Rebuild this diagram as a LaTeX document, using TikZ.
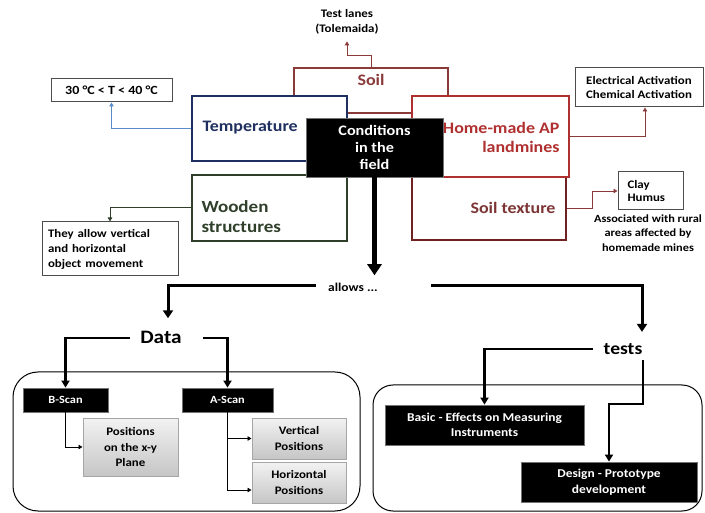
\documentclass[tikz,border=0pt]{standalone}
\usepackage{fontspec}
\setmainfont[FakeStretch=1.12]{Carlito}
\usepackage{tikz}
\usetikzlibrary{arrows.meta}

\definecolor{tempnavy}{HTML}{1F2F5F}
\definecolor{tempblue}{HTML}{5B8BC9}
\definecolor{soilred}{HTML}{8B3A3A}
\definecolor{homered}{HTML}{B03030}
\definecolor{texbrown}{HTML}{6E2222}
\definecolor{woodgreen}{HTML}{2F3F2A}

\begin{document}
\begin{tikzpicture}[x=1pt, y=-1pt, line width=1pt,
    bigbox/.style={draw, fill=white, line width=1.6pt, inner sep=0pt},
    bigtext/.style={font=\bfseries\fontsize{16}{19}\selectfont, inner sep=0pt},
    infobox/.style={draw=black!70, fill=white, line width=1pt, inner sep=0pt, align=center,
        font=\bfseries\fontsize{11.5}{13.5}\selectfont},
    darkbox/.style={draw=black!55, fill=black, text=white, line width=.8pt, inner sep=0pt,
        align=center, font=\bfseries\fontsize{11}{15}\selectfont},
    greybox/.style={draw=gray!70, top color=gray!10, bottom color=gray!45, inner sep=0pt,
        align=center, font=\bfseries\fontsize{11.5}{15.5}\selectfont},
    linkarrow/.style={line width=.9pt, -{Triangle[length=4pt,width=4.5pt]}},
    bigarrow/.style={line width=3pt, -{Triangle[length=8pt,width=10pt]}}
]
    \useasboundingbox (0,0) rectangle (705,513);

    % conditions in the field
    \node[bigbox, draw=soilred, minimum width=154, minimum height=45] (soil) at (371,90.5) {};
    \node[bigtext, text=soilred] (soiltxt) at (371,80) {Soil};
    \node[bigbox, draw=tempnavy, minimum width=155, minimum height=65] (temp) at (269.5,128.5) {};
    \node[bigtext, text=tempnavy, anchor=west] (temptxt) at (202,128) {Temperature};
    \node[bigbox, draw=woodgreen, minimum width=155, minimum height=66] (wood) at (269.5,208) {};
    \node[bigtext, text=woodgreen, anchor=west, align=left, font=\bfseries\fontsize{17}{20}\selectfont]
        (woodtxt) at (201,217) {Wooden\\structures};
    \node[bigbox, draw=texbrown, minimum width=154, minimum height=63] (soiltex) at (489,208.5) {};
    \node[bigtext, text=soilred!90!black] (soiltextxt) at (513,208) {Soil texture};
    \node[bigbox, draw=homered, minimum width=157, minimum height=81] (home) at (490.5,136.5) {};
    \node[bigtext, text=homered, anchor=east, align=right] (hometxt) at (560,137.5) {Home-made AP\\landmines};
    \node[darkbox, minimum width=137, minimum height=59, font=\bfseries\fontsize{14.5}{17}\selectfont]
        (cond) at (374.5,147.5) {Conditions\\in the\\field};

    % side notes
    \node[infobox, minimum width=121, minimum height=23, font=\bfseries\fontsize{12.5}{14}\selectfont]
        (temprange) at (111.5,90.5) {30 °C < T < 40 °C};
    \node[font=\bfseries\fontsize{11.5}{15}\selectfont, align=center, inner sep=0pt]
        (lanes) at (347,21.5) {Test lanes\\(Tolemaida)};
    \node[infobox, minimum width=128, minimum height=39] (elec) at (639,87.5)
        {Electrical Activation\\Chemical Activation};
    \node[infobox, minimum width=65, minimum height=38, text width=46, align=left] (clay) at (650.5,191)
        {Clay\\Humus};
    \node[font=\bfseries\fontsize{11}{14.5}\selectfont, align=center, inner sep=0pt] (assoc) at (648,233)
        {Associated with rural\\areas affected by\\homemade mines};
    \node[infobox, minimum width=136, minimum height=54, text width=124, align=left,
        font=\bfseries\fontsize{11.5}{15}\selectfont] (move) at (110,249)
        {They allow vertical\\and horizontal\\object movement};

    \draw[linkarrow, tempblue] (temp.west) -| (temprange.south);
    \draw[linkarrow, woodgreen] ([yshift=1pt]wood.west) -| (move.north);
    \draw[linkarrow, soilred] (soil.north) -- ++(0,-12) -| ([yshift=-7pt]lanes.south);
    \draw[linkarrow, soilred] (home.east) -| ([xshift=6pt]elec.south);
    \draw[linkarrow, soilred] (soiltex.east) -- ++(26,0) |- (clay.west);

    % what the field allows
    \node[font=\bfseries\fontsize{12}{13}\selectfont, inner sep=3pt] (allows) at (353,287) {allows ...};
    \node[font=\bfseries\fontsize{19}{20}\selectfont, inner sep=3pt] (data) at (161,337) {Data};
    \node[font=\bfseries\fontsize{17.5}{19}\selectfont, inner sep=3pt] (tests) at (623,349) {tests};

    \draw[bigarrow, line width=4.5pt, -{Triangle[length=11pt,width=14pt]}]
        (cond.south) -- ([yshift=4pt]cond.south |- allows.north);
    \draw[bigarrow] (allows.west) ++(-9,-1) -| ([xshift=7pt, yshift=9pt]data.north);
    \draw[bigarrow] (allows.east) ++(50,-1) -| ([xshift=19pt, yshift=8pt]tests.north);

    % data
    \draw[rounded corners=25] (13,372) rectangle (360,511);
    \node[darkbox, minimum width=85, minimum height=24] (bscan) at (65.5,400) {B-Scan};
    \node[darkbox, minimum width=91, minimum height=24] (ascan) at (227.5,400) {A-Scan};
    \node[greybox, minimum width=95, minimum height=58] (plane) at (130.5,447) {Positions\\on the x-y\\Plane};
    \node[greybox, minimum width=94, minimum height=41] (vert) at (299,438.5) {Vertical\\Positions};
    \node[greybox, minimum width=94, minimum height=41] (horz) at (299,482.5) {Horizontal\\Positions};

    \draw[bigarrow, line width=2.5pt, -{Triangle[length=7pt,width=8pt]}]
        (data.west) ++(-7,1) -| (bscan.north);
    \draw[bigarrow, line width=2.5pt, -{Triangle[length=7pt,width=8pt]}]
        (data.east) ++(18,1) -| (ascan.north);
    \draw[linkarrow] (bscan.south) |- (plane.west);
    \draw[linkarrow] (ascan.south) |- (vert.west);
    \draw[linkarrow] (ascan.south) |- ([yshift=-7.5pt]horz.west);

    % tests
    \draw[rounded corners=20] (373,385) rectangle (702,511);
    \node[darkbox, minimum width=199, minimum height=40, font=\bfseries\fontsize{12}{15.5}\selectfont]
        (basic) at (484.5,425) {Basic - Effects on Measuring\\Instruments};
    \node[darkbox, minimum width=176, minimum height=40, font=\bfseries\fontsize{12}{15.5}\selectfont]
        (design) at (609,482) {Design - Prototype\\development};

    \draw[bigarrow, line width=2.5pt, -{Triangle[length=7pt,width=8pt]}]
        (tests.west) ++(-7,0) -| (basic.north);
    \draw[bigarrow, line width=2.5pt, -{Triangle[length=7pt,width=8pt]}]
        ([xshift=20pt]tests.south) ++(0,2) -- ++(0,44) -| (design.north);
\end{tikzpicture}
\end{document}
